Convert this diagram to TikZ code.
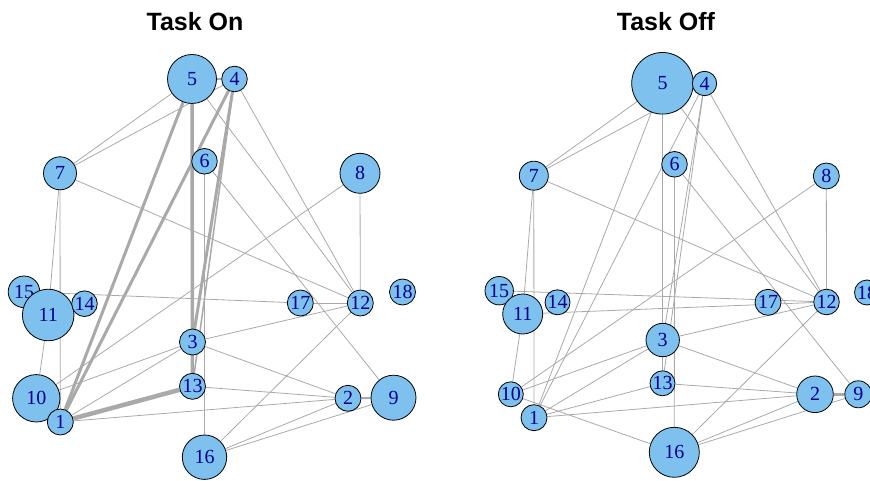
\documentclass[tikz,border=0pt]{standalone}
\usepackage{fontspec}
\setmainfont{Liberation Serif}
\newfontfamily\titlefont{Liberation Sans}
\usetikzlibrary{backgrounds}
\definecolor{skyblue}{HTML}{7EC0EE}
\definecolor{darkblue}{HTML}{00008B}
\definecolor{edgegray}{HTML}{A9A9A9}
\tikzset{
  vtx/.style={circle,draw=black,line width=0.8pt,fill=skyblue,text=darkblue,inner sep=0pt,
    font=\fontsize{20}{20}\selectfont},
  edg/.style={draw=edgegray,line width=0.8pt},
  ttl/.style={anchor=base,font=\titlefont\bfseries\fontsize{25}{25}\selectfont}
}
\begin{document}
\begin{tikzpicture}[x=1pt,y=-1pt]%Task On / Task Off
\useasboundingbox (0,0) rectangle (870,481);
\node[ttl] (tOn) at (195,31) {Task On};
\node[ttl] (tOff) at (666,31) {Task Off};
% left graph
\foreach \n/\x/\y/\r in {5/192/79/24.5, 4/234.5/79/12.8, 7/60/173.3/16.5, 6/204.5/161.3/12.8,
  8/360/173.3/20, 15/24/291.8/15.8, 11/48.2/315/25.8, 14/84.5/303.7/12.8, 17/300.3/303/13,
  12/360.3/303/13, 18/402.5/292/13, 3/192.5/342/13, 13/192.5/386.3/13, 10/36.3/398.3/23.7,
  1/60.3/422/13, 2/348/398.3/13, 9/393.5/397.7/22.5, 16/204.5/457.2/22.2}
  \node[vtx,minimum size={2*\r pt}] (l\n) at (\x,\y) {\n};
% right graph
\foreach \n/\x/\y/\r in {5/662.5/83.3/30.8, 4/704.5/83.5/12.2, 7/533.8/175.7/14.5, 6/674.5/164.3/12.8,
  8/826.3/176/13, 15/499.2/290.7/14.2, 11/522.7/314/20, 14/557.5/302.3/12.5, 17/768/302.3/13,
  12/826.5/302/12.8, 18/867/292.5/12.5, 3/662.7/340/16.7, 13/662.5/383.3/12.5, 10/510.8/394.3/12.5,
  1/534/417.7/13, 2/815/394.3/18.3, 9/858.3/394.3/13.5, 16/674.3/452.3/25}
  \node[vtx,minimum size={2*\r pt}] (r\n) at (\x,\y) {\n};
\begin{scope}[on background layer]
\foreach \a/\b in {7/5, 7/4, 5/12, 4/12, 6/9, 6/16, 7/12, 7/11, 7/1, 8/10, 8/12, 15/17, 17/12,
  11/10, 3/10, 3/12, 3/1, 3/2, 13/2, 1/2, 16/2, 16/9, 16/12}
  \draw[edg] (l\a) -- (l\b);
\draw[edg,line width=1.5pt] (l4) -- (l13);
\draw[edg,line width=2.5pt] (l5) -- (l4);
\draw[edg,line width=3pt] (l5) -- (l1);
\draw[edg,line width=3pt] (l4) -- (l1);
\draw[edg,line width=3.5pt] (l5) -- (l13);
\draw[edg,line width=3pt] (l4) -- (l3);
\draw[edg,line width=4.5pt] (l13) -- (l1);
\draw[edg,line width=2pt] (l2) -- (l9);
\foreach \a/\b in {7/5, 7/4, 5/1, 4/1, 5/13, 4/3, 4/13, 4/12, 5/12, 6/9, 6/16, 7/12, 8/10, 8/12,
  7/11, 7/1, 15/12, 11/12, 11/10, 10/3, 10/16, 1/3, 1/13, 1/2, 13/2, 3/2, 3/12, 16/12, 16/2, 16/9}
  \draw[edg] (r\a) -- (r\b);
\draw[edg,line width=3pt] (r2) -- (r9);
\end{scope}
\end{tikzpicture}
\end{document}
